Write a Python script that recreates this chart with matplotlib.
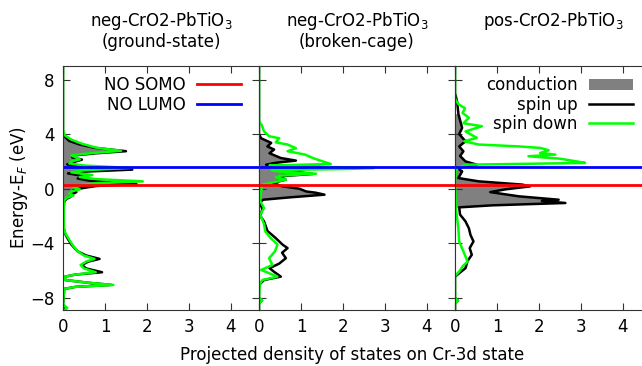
import matplotlib
matplotlib.use("Agg")
import matplotlib.pyplot as plt
from matplotlib.patches import Patch
from matplotlib.lines import Line2D
import numpy as np

# --- data (energy in eV, PDOS) ---
titles = ["neg-CrO2-PbTiO$_3$\n(ground-state)",
          "neg-CrO2-PbTiO$_3$\n(broken-cage)",
          "pos-CrO2-PbTiO$_3$"]

somo = 0.3
lumo = 1.6

# panel 1: neg, ground state
e_up1 = [9.0, 4.2, 3.85, 3.5, 3.24, 3.0, 2.75, 2.6, 2.45, 2.3, 2.13, 1.95, 1.78, 1.6, 1.4, 1.25,
         1.12, 0.9, 0.75, 0.6, 0.45, 0.34, 0.2, 0.05, -0.1, -0.25, -0.44, -0.6, -0.75, -0.95,
         -1.5, -2.9, -3.3, -3.6, -4.1, -4.6, -4.9, -5.15, -5.35, -5.6, -5.85, -6.13, -6.3,
         -6.45, -6.7, -6.9, -7.06, -7.2, -7.35, -8.5, -8.75, -9.0]
up1 = [0.0, 0.0, 0.03, 0.15, 0.4, 0.75, 1.5, 0.8, 0.3, 0.22, 0.45, 0.25, 0.1, 0.6, 1.65, 0.5,
       0.12, 0.55, 0.35, 0.6, 1.2, 1.75, 0.8, 0.48, 0.25, 0.32, 0.2, 0.18, 0.08, 0.03,
       0.01, 0.02, 0.05, 0.1, 0.2, 0.35, 0.55, 0.87, 0.6, 0.45, 0.55, 0.93, 0.3,
       0.05, 0.05, 0.6, 1.15, 0.3, 0.03, 0.0, 0.08, 0.0]
e_dn1 = [9.0, 4.3, 3.9, 3.6, 3.3, 3.0, 2.78, 2.6, 2.45, 2.3, 2.15, 2.0, 1.85, 1.7, 1.52, 1.35,
         1.2, 1.0, 0.85, 0.7, 0.54, 0.4, 0.25, 0.1, -0.05, -0.2, -0.35, -0.5, -0.65, -0.85,
         -1.5, -2.9, -3.3, -3.6, -4.1, -4.6, -4.9, -5.15, -5.35, -5.6, -5.85, -6.13, -6.3,
         -6.45, -6.7, -6.9, -7.06, -7.2, -7.35, -8.5, -8.75, -9.0]
dn1 = [0.0, 0.0, 0.05, 0.2, 0.45, 0.8, 1.38, 0.65, 0.2, 0.3, 0.4, 0.2, 0.15, 0.5, 1.6, 0.5,
       0.2, 0.7, 0.4, 0.8, 1.9, 0.8, 0.35, 0.25, 0.4, 0.2, 0.15, 0.25, 0.1, 0.03,
       0.02, 0.02, 0.06, 0.12, 0.22, 0.35, 0.5, 0.75, 0.55, 0.42, 0.5, 0.78, 0.3,
       0.05, 0.05, 0.6, 1.2, 0.3, 0.03, 0.0, 0.1, 0.0]

# panel 2: neg, broken cage
e_up2 = [9.0, 4.0, 3.7, 3.36, 3.1, 2.87, 2.6, 2.25, 2.06, 1.9, 1.76, 1.52, 1.27, 1.08, 0.9,
         0.66, 0.42, 0.17, 0.0, -0.2, -0.3, -0.44, -0.64, -0.81, -1.0, -1.5, -2.0, -2.4, -3.1,
         -3.63, -4.1, -4.36, -4.7, -5.1, -5.5, -5.83, -6.1, -6.45, -6.7, -7.06, -8.0, -8.2,
         -8.4, -9.0]
up2 = [0.0, 0.0, 0.05, 0.29, 0.2, 0.36, 0.25, 0.52, 0.88, 0.4, 0.17, 1.16, 0.8, 1.28, 0.45,
       0.64, 0.33, 0.56, 0.96, 1.12, 1.36, 1.56, 0.72, 0.1, 0.02, 0.08, 0.03, 0.12, 0.2,
       0.4, 0.56, 0.68, 0.55, 0.64, 0.48, 0.25, 0.36, 0.52, 0.12, 0.0, 0.0, 0.07, 0.0, 0.0]
e_dn2 = [9.0, 4.9, 4.7, 4.2, 3.85, 3.7, 3.4, 3.24, 2.97, 2.75, 2.5, 2.25, 2.0, 1.81, 1.7,
         1.62, 1.52, 1.45, 1.36, 1.25, 1.1, 0.95, 0.85, 0.66, 0.3, -0.2, -0.9, -1.42, -1.9,
         -2.6, -3.14, -3.63, -4.1, -4.6, -5.1, -5.6, -5.96, -6.2, -6.45, -6.7, -7.0, -8.0,
         -8.2, -8.4, -9.0]
dn2 = [0.0, 0.0, 0.06, 0.12, 0.24, 0.48, 0.4, 0.68, 0.88, 0.68, 1.1, 1.28, 1.52, 1.71, 0.25,
       1.2, 2.74, 2.2, 0.3, 0.5, 1.36, 0.5, 0.4, 0.64, 0.08, 0.05, 0.03, 0.12, 0.03,
       0.12, 0.15, 0.28, 0.44, 0.38, 0.24, 0.32, 0.05, 0.24, 0.44, 0.08, 0.02, 0.0,
       0.08, 0.0, 0.0]

# panel 3: pos
e_up3 = [9.0, 7.0, 6.4, 5.5, 4.46, 4.0, 3.48, 3.1, 2.74, 2.4, 2.0, 1.76, 1.52, 1.27, 0.78,
         0.54, 0.3, 0.17, -0.05, -0.25, -0.56, -0.81, -0.9, -1.05, -1.22, -1.37, -1.9, -2.4,
         -2.9, -3.4, -3.87, -4.36, -4.85, -5.3, -5.83, -6.2, -6.45, -8.0, -8.2, -8.4, -9.0]
up3 = [0.0, 0.0, 0.05, 0.08, 0.17, 0.1, 0.25, 0.1, 0.2, 0.12, 0.25, 0.52, 0.05, 0.17, 0.08,
       0.56, 1.6, 1.79, 1.2, 0.84, 1.52, 2.47, 2.07, 2.63, 0.9, 0.1, 0.12, 0.25,
       0.33, 0.37, 0.44, 0.35, 0.4, 0.3, 0.25, 0.1, 0.0, 0.0, 0.07, 0.0, 0.0]
e_dn3 = [9.0, 6.6, 6.2, 5.9, 5.56, 5.2, 4.8, 4.58, 4.2, 3.73, 3.48, 3.24, 3.1, 2.99, 2.82,
         2.62, 2.5, 2.38, 2.2, 2.0, 1.89, 1.76, 1.6, 1.3, 0.5, -1.67, -2.9, -3.87, -4.6,
         -5.35, -5.7, -6.08, -6.4, -8.0, -8.2, -8.4, -9.0]
dn3 = [0.0, 0.0, 0.08, 0.24, 0.18, 0.33, 0.2, 0.64, 0.25, 0.52, 0.22, 0.56, 1.52, 2.03, 2.23,
       2.03, 2.39, 1.75, 2.5, 2.9, 3.1, 0.3, 0.08, 0.02, 0.0, 0.03, 0.08, 0.1, 0.2,
       0.3, 0.18, 0.1, 0.0, 0.0, 0.07, 0.0, 0.0]

panels = [(e_up1, up1, e_dn1, dn1, (-0.95, 3.9)),
          (e_up2, up2, e_dn2, dn2, (-0.85, 4.0)),
          (e_up3, up3, e_dn3, dn3, (-1.4, 6.2))]

plt.rcParams['font.family'] = 'DejaVu Sans'
plt.rcParams['font.size'] = 12

fig = plt.figure(figsize=(6.42, 3.66), dpi=100)

left0 = 63 / 642
w = 196 / 642
bottom = 1 - 310 / 366
h = 244 / 366

for i, (eu, u, ed, d, crange) in enumerate(panels):
    ax = fig.add_axes([left0 + i * w, bottom, w, h])
    eu = np.array(eu)
    u = np.array(u)
    mask = (eu >= crange[0]) & (eu <= crange[1])
    ax.fill_betweenx(eu[mask], 0, u[mask], color='#808080', lw=0)
    ax.plot(u, eu, color='black', lw=1.8)
    ax.plot(d, ed, color='#00ff00', lw=1.8)
    ax.axhline(somo, color='#ff0000', lw=2)
    ax.axhline(lumo, color='#0000ff', lw=2)
    ax.set_xlim(0, 4.67)
    ax.set_ylim(-8.9, 9.0)
    ax.set_xticks([0, 1, 2, 3, 4])
    ax.set_yticks([-8, -4, 0, 4, 8])
    ax.tick_params(direction='in', top=True, right=True, length=5, width=0.8,
                   colors='#333333', labelcolor='black', pad=6)
    for s in ax.spines.values():
        s.set_color('#333333')
    if i > 0:
        ax.set_yticklabels([])
    else:
        ax.set_ylabel("Energy-E$_F$ (eV)")
        ax.yaxis.set_label_coords(-0.17, 0.5)
    ax.text(0.5, 1.23, titles[i], transform=ax.transAxes, ha='center', va='top',
            linespacing=1.05)
    if i == 0:
        hl = [Line2D([], [], color='#ff0000', lw=2), Line2D([], [], color='#0000ff', lw=2)]
        ax.legend(hl, ["NO SOMO", "NO LUMO"], loc='upper right', bbox_to_anchor=(0.94, 0.985),
                  frameon=False, markerfirst=False, handlelength=2.6, borderaxespad=0,
                  labelspacing=0.08, handletextpad=0.7)
    if i == 2:
        hl = [Patch(facecolor='#808080', edgecolor='none'),
              Line2D([], [], color='black', lw=1.8), Line2D([], [], color='#00ff00', lw=1.8)]
        ax.legend(hl, ["conduction", "spin up", "spin down"], loc='upper right',
                  bbox_to_anchor=(0.94, 0.985), frameon=False, markerfirst=False,
                  handlelength=2.6, borderaxespad=0, labelspacing=0.08, handletextpad=0.7)

fig.text(352 / 642, 1 - 355 / 366, "Projected density of states on Cr-3d state",
         ha='center', va='center')

fig.savefig("out.png", dpi=100)
